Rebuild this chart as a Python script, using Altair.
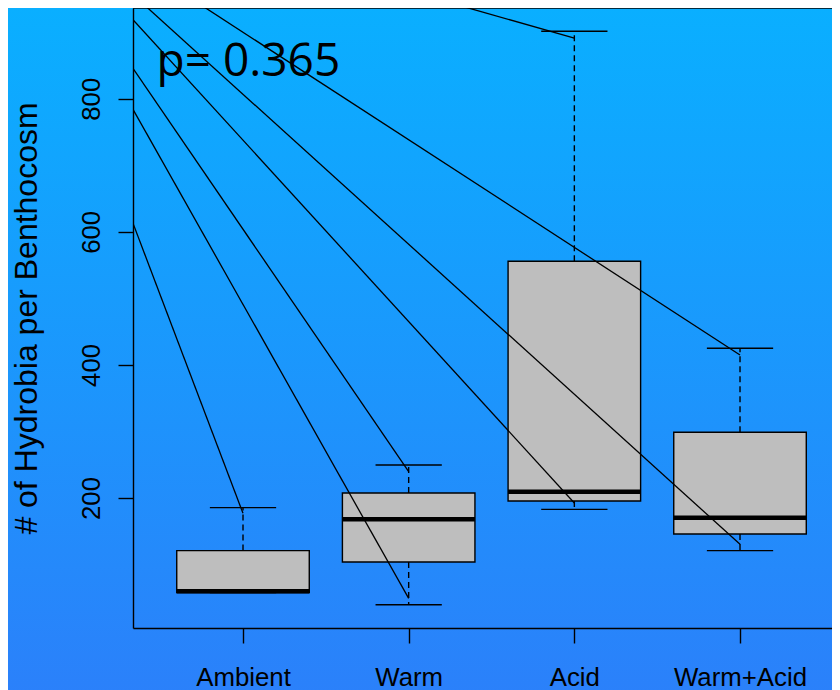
import altair as alt
import pandas as pd

# ---- data ----
groups = ["Ambient", "Warm", "Acid", "Warm+Acid"]
group_pos = [1, 2, 3, 4]
lower_whisker = [58, 39.7, 183, 120.9]
q1 = [58, 103.9, 195.5, 146]
median = [60, 168, 209.5, 170.4]
q3 = [121, 207.6, 555.7, 298.8]
upper_whisker = [185.5, 249.6, 901.3, 425]

# fan of lines converging to an off-plot point (upper left)
fan_origin_x = -0.461
fan_origin_y = 1136
fan_end_x = [1, 2, 2, 3, 3, 4, 4]
fan_end_y = [177, 49.3, 239.6, 192.5, 891, 130.5, 415]

p_label = "p= 0.365"
p_label_x = 0.478
p_label_y = 834.2

y_ticks = [200, 400, 600, 800]
y_title = "# of Hydrobia per Benthocosm"

# ---- tables ----
box_df = pd.DataFrame({
    "group": groups,
    "pos": group_pos,
    "lo": lower_whisker,
    "q1": q1,
    "med": median,
    "q3": q3,
    "hi": upper_whisker,
})
box_df["left"] = box_df["pos"] - 0.4
box_df["right"] = box_df["pos"] + 0.4
box_df["capl"] = box_df["pos"] - 0.2
box_df["capr"] = box_df["pos"] + 0.2

fan_df = pd.DataFrame({
    "x0": [fan_origin_x] * len(fan_end_x),
    "y0": [fan_origin_y] * len(fan_end_x),
    "x1": fan_end_x,
    "y1": fan_end_y,
})

text_df = pd.DataFrame({"x": [p_label_x], "y": [p_label_y], "t": [p_label]})

W, H = 699, 620
xs = alt.Scale(domain=[0.336, 0.336 + W / 165.67], nice=False, zero=False)
ys = alt.Scale(domain=[4.7, 936.3], nice=False, zero=False)

label_expr = "datum.value == 1 ? 'Ambient' : datum.value == 2 ? 'Warm' : datum.value == 3 ? 'Acid' : 'Warm+Acid'"

x_axis = alt.Axis(
    values=group_pos, labelExpr=label_expr, title=None, grid=False, zindex=1,
    tickSize=15, tickColor="black", tickWidth=1.4,
    domainColor="black", domainWidth=1.4,
    labelFont="Liberation Sans", labelFontSize=25.8, labelColor="black",
    labelBaseline="alphabetic", labelPadding=42, labelAlign="center",
)
y_axis = alt.Axis(
    values=y_ticks, title=y_title, grid=False, zindex=1,
    tickSize=15, tickColor="black", tickWidth=1.4,
    domainColor="black", domainWidth=1.4,
    labelFont="Liberation Sans", labelFontSize=25.8, labelColor="black",
    labelAngle=270, labelAlign="center", labelBaseline="alphabetic", labelPadding=19,
    titleFont="Liberation Sans", titleFontSize=32, titleFontWeight="normal", titleColor="black",
    titleAngle=270, titleAlign="center", titleBaseline="alphabetic",
    titleX=-97, titleY=310,
)

bg = alt.Chart(text_df).mark_rect(
    clip=False,
    color=alt.LinearGradient(
        gradient="linear", x1=0, x2=0, y1=0, y2=1,
        stops=[alt.GradientStop(color="#0AAFFF", offset=0),
               alt.GradientStop(color="#2B80FA", offset=1)],
    ),
).encode(x=alt.value(-125), x2=alt.value(W), y=alt.value(0), y2=alt.value(690))

base = alt.Chart(box_df)

whisk_hi = base.mark_rule(color="black", strokeWidth=1.4, strokeDash=[6, 4]).encode(
    x=alt.X("pos:Q", scale=xs, axis=x_axis),
    y=alt.Y("q3:Q", scale=ys, axis=y_axis),
    y2="hi:Q",
)
whisk_lo = base.mark_rule(color="black", strokeWidth=1.4, strokeDash=[6, 4]).encode(
    x=alt.X("pos:Q", scale=xs), y=alt.Y("q1:Q", scale=ys), y2="lo:Q",
)
cap_hi = base.mark_rule(color="black", strokeWidth=1.4).encode(
    x=alt.X("capl:Q", scale=xs), x2="capr:Q", y=alt.Y("hi:Q", scale=ys),
)
cap_lo = base.mark_rule(color="black", strokeWidth=1.4).encode(
    x=alt.X("capl:Q", scale=xs), x2="capr:Q", y=alt.Y("lo:Q", scale=ys),
)
boxes = base.mark_rect(fill="#BEBEBE", stroke="black", strokeWidth=1.4).encode(
    x=alt.X("left:Q", scale=xs), x2="right:Q",
    y=alt.Y("q1:Q", scale=ys), y2="q3:Q",
)
meds = base.mark_rule(color="black", strokeWidth=4.5, strokeCap="butt").encode(
    x=alt.X("left:Q", scale=xs), x2="right:Q", y=alt.Y("med:Q", scale=ys),
)

fan = alt.Chart(fan_df).mark_rule(color="black", strokeWidth=1.3, clip=True).encode(
    x=alt.X("x0:Q", scale=xs), x2="x1:Q",
    y=alt.Y("y0:Q", scale=ys), y2="y1:Q",
)

ptext = alt.Chart(text_df).mark_text(
    font="Open Sans", fontSize=46, align="left", baseline="alphabetic", color="black"
).encode(x=alt.X("x:Q", scale=xs), y=alt.Y("y:Q", scale=ys), text="t:N")

top_border = alt.Chart(text_df).mark_rule(color="black", strokeWidth=1.4).encode(
    x=alt.value(0), x2=alt.value(W), y=alt.value(0)
)

chart = alt.layer(
    bg, whisk_hi, whisk_lo, cap_hi, cap_lo, boxes, meds, fan, ptext, top_border
).properties(
    width=W, height=H,
    autosize=alt.AutoSizeParams(type="none"),
    padding={"left": 125, "top": 0, "right": 0, "bottom": 62},
    background="#1A98FE",
).configure_view(stroke=None)

chart.save("out.html", embed_options={"renderer": "svg", "actions": False})
